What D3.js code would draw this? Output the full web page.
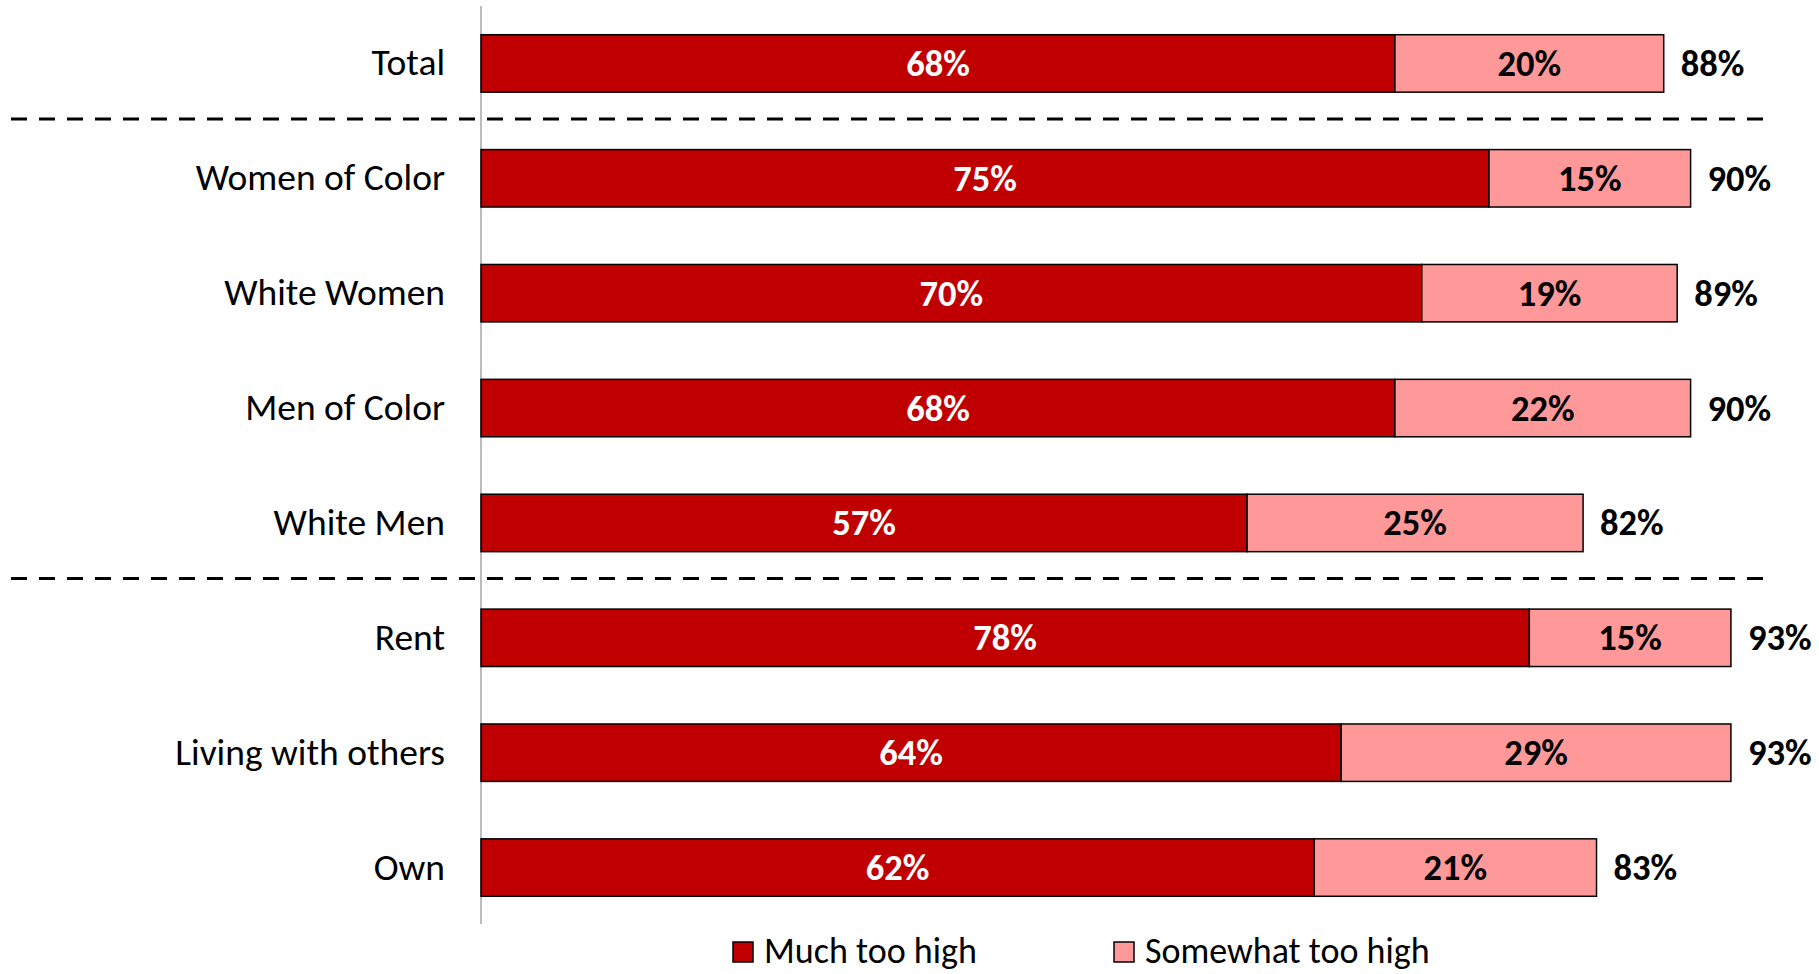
<!DOCTYPE html>
<html>
<head>
<meta charset="utf-8">
<script src="https://cdn.jsdelivr.net/npm/d3@7"></script>
<style>
  html, body { margin: 0; padding: 0; background: #fff; }
  svg { display: block; }
  text { font-family: Carlito, Calibri, "Open Sans", "Noto Sans", sans-serif; }
</style>
</head>
<body>
<svg id="chart" width="1819" height="974"></svg>
<script>
// Categories, top to bottom
const categories = ["Total", "Women of Color", "White Women", "Men of Color", "White Men", "Rent", "Living with others", "Own"];
// Share saying costs are "much too high" (%)
const muchTooHigh = [68, 75, 70, 68, 57, 78, 64, 62];
// Share saying costs are "somewhat too high" (%)
const somewhatTooHigh = [20, 15, 19, 22, 25, 15, 29, 21];
// Combined total shown to the right of each bar (%)
const totals = [88, 90, 89, 90, 82, 93, 93, 83];
// Series names for the legend
const seriesNames = ["Much too high", "Somewhat too high"];
// Group breaks: a dashed rule is drawn after these categories
const breaksAfter = ["Total", "White Men"];

const colors = ["#C00000", "#FF9999"];
const svg = d3.select("#chart");

const x = d3.scaleLinear().domain([0, 100]).range([481, 1825]);
const y = d3.scaleBand().domain(categories).range([6, 925]).paddingInner(0.5).paddingOuter(0.25);

const rows = categories.map((c, i) => ({
  cat: c,
  segs: [
    { start: 0, val: muchTooHigh[i], s: 0 },
    { start: muchTooHigh[i], val: somewhatTooHigh[i], s: 1 }
  ],
  total: totals[i]
}));

// Dashed group separators
breaksAfter.forEach(c => {
  const i = categories.indexOf(c);
  const yy = (y(categories[i]) + y.bandwidth() + y(categories[i + 1])) / 2 - 2;
  svg.append("line")
    .attr("x1", 11).attr("x2", 1764)
    .attr("y1", yy).attr("y2", yy)
    .attr("stroke", "#000").attr("stroke-width", 3)
    .attr("stroke-dasharray", "16,12");
});

// Vertical category axis line
svg.append("line")
  .attr("x1", x(0)).attr("x2", x(0))
  .attr("y1", y.range()[0]).attr("y2", y.range()[1] - 1)
  .attr("stroke", "#A6A6A6").attr("stroke-width", 1.5);

// Category labels
svg.append("g").selectAll("text").data(categories).join("text")
  .attr("x", 445)
  .attr("y", d => y(d) + y.bandwidth() / 2 - 1)
  .attr("text-anchor", "end")
  .attr("dominant-baseline", "central")
  .attr("font-size", 37.5)
  .attr("fill", "#000")
  .text(d => d);

const rowG = svg.append("g").selectAll("g").data(rows).join("g")
  .attr("transform", d => `translate(0,${y(d.cat)})`);

// Stacked segments
rowG.selectAll("rect").data(d => d.segs).join("rect")
  .attr("x", d => x(d.start))
  .attr("y", 0)
  .attr("width", d => x(d.start + d.val) - x(d.start))
  .attr("height", y.bandwidth())
  .attr("fill", d => colors[d.s])
  .attr("stroke", "#000")
  .attr("stroke-width", 1.5);

// Segment value labels
rowG.selectAll("text.seg").data(d => d.segs).join("text")
  .attr("class", "seg")
  .attr("x", d => x(d.start + d.val / 2))
  .attr("y", y.bandwidth() / 2)
  .attr("text-anchor", "middle")
  .attr("dominant-baseline", "central")
  .attr("font-size", 36.5)
  .attr("font-weight", "bold")
  .attr("fill", d => d.s === 0 ? "#fff" : "#000")
  .text(d => d.val + "%");

// Totals at bar end
rowG.append("text")
  .attr("x", d => x(d.total) + 17)
  .attr("y", y.bandwidth() / 2)
  .attr("dominant-baseline", "central")
  .attr("font-size", 36.5)
  .attr("font-weight", "bold")
  .attr("fill", "#000")
  .text(d => d.total + "%");

// Legend
const legendX = [733, 1114];
const legend = svg.append("g").selectAll("g").data(seriesNames).join("g")
  .attr("transform", (d, i) => `translate(${legendX[i]},951)`);
legend.append("rect")
  .attr("x", 0).attr("y", -9).attr("width", 20).attr("height", 20)
  .attr("fill", (d, i) => colors[i])
  .attr("stroke", "#000").attr("stroke-width", 1.5);
legend.append("text")
  .attr("x", 31).attr("y", 0)
  .attr("dominant-baseline", "central")
  .attr("font-size", 36)
  .attr("fill", "#000")
  .text(d => d);
</script>
</body>
</html>
